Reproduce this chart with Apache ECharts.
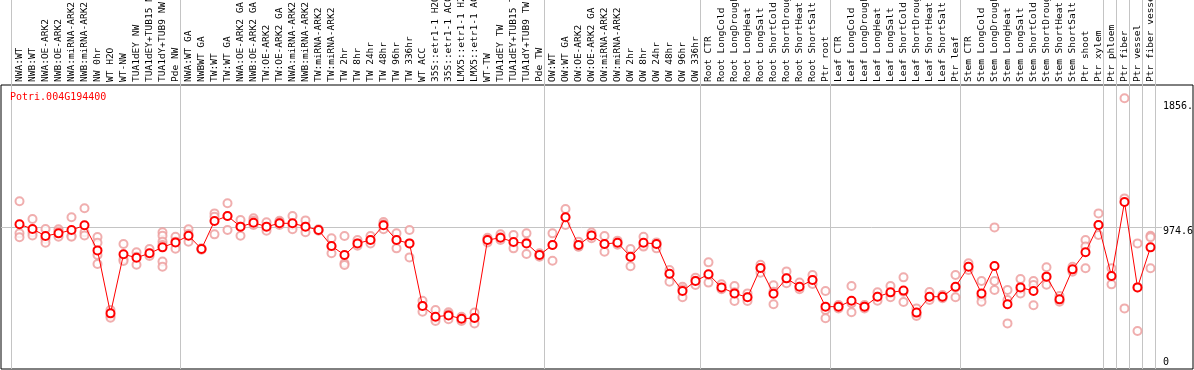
<!DOCTYPE html>
<html lang="en">

<head>
    <meta charset="UTF-8">
    <title>Potri.004G194400</title>
    <style>
        body {
            margin: 0;
            background: #fff;
        }

        #chart {
            width: 1194px;
            height: 370px;
        }
    </style>
    <script src="https://cdn.jsdelivr.net/npm/echarts@6/dist/echarts.min.js"></script>
</head>

<body>
    <div id="chart"></div>
    <script>
        var geneName = 'Potri.004G194400';

        var categories = [
            'NWA:WT', 'NWB:WT', 'NWA:OE-ARK2', 'NWB:OE-ARK2', 'NWA:miRNA-ARK2', 'NWB:miRNA-ARK2',
            'NW 0hr', 'WT H2O', 'WT-NW', 'TUA1dEY NW', 'TUA1dEY+TUB15 NW', 'TUA1dY+TUB9 NW', 'Pde NW',
            'NWA:WT GA', 'NWBWT GA', 'TW:WT', 'TW:WT GA', 'NWA:OE-ARK2 GA', 'NWB:OE-ARK2 GA',
            'TW:OE-ARK2', 'TW:OE-ARK2 GA', 'NWA:miRNA-ARK2', 'NWB:miRNA-ARK2', 'TW:miRNA-ARK2', 'TW:miRNA-ARK2',
            'TW 2hr', 'TW 8hr', 'TW 24hr', 'TW 48hr', 'TW 96hr', 'TW 336hr', 'WT ACC',
            '35S::etr1-1 H2O', '35S::etr1-1 ACC', 'LMX5::etr1-1 H2O', 'LMX5::etr1-1 ACC',
            'WT-TW', 'TUA1dEY TW', 'TUA1dEY+TUB15 TW', 'TUA1dY+TUB9 TW', 'Pde TW',
            'OW:WT', 'OW:WT GA', 'OW:OE-ARK2', 'OW:OE-ARK2 GA', 'OW:miRNA-ARK2', 'OW:miRNA-ARK2',
            'OW 2hr', 'OW 8hr', 'OW 24hr', 'OW 48hr', 'OW 96hr', 'OW 336hr',
            'Root CTR', 'Root LongCold', 'Root LongDrought', 'Root LongHeat', 'Root LongSalt',
            'Root ShortCold', 'Root ShortDrought', 'Root ShortHeat', 'Root ShortSalt', 'Ptr root',
            'Leaf CTR', 'Leaf LongCold', 'Leaf LongDrought', 'Leaf LongHeat', 'Leaf LongSalt',
            'Leaf ShortCold', 'Leaf ShortDrought', 'Leaf ShortHeat', 'Leaf ShortSalt', 'Ptr leaf',
            'Stem CTR', 'Stem LongCold', 'Stem LongDrought', 'Stem LongHeat', 'Stem LongSalt',
            'Stem ShortCold', 'Stem ShortDrought', 'Stem ShortHeat', 'Stem ShortSalt',
            'Ptr shoot', 'Ptr xylem', 'Ptr phloem', 'Ptr fiber', 'Ptr vessel', 'Ptr fiber vessel'
        ];

        // mean expression per sample (the connected dark red circles)
        var means = [
            993, 961, 913, 931, 954, 986, 814, 382, 787, 764,
            794, 835, 869, 915, 824, 1016, 1050, 977, 1004, 977,
            1000, 1000, 977, 954, 844, 782, 862, 885, 986, 885,
            862, 432, 359, 368, 345, 350, 885, 901, 872, 862,
            782, 851, 1041, 851, 917, 858, 867, 771, 867, 858,
            654, 535, 604, 650, 560, 519, 492, 693, 517, 622,
            565, 611, 428, 428, 469, 428, 496, 526, 538, 387,
            496, 496, 565, 702, 519, 707, 444, 560, 535, 634,
            478, 684, 801, 988, 638, 1146, 560, 835
        ];

        // replicate values per sample (the light circles)
        var replicates = [
            [1151, 931, 904], [1029, 936, 917], [961, 892, 867], [959, 943, 908], [1041, 913, 908],
            [1103, 938, 917], [906, 867, 782, 721], [405, 366, 352], [858, 753, 741], [801, 771, 716],
            [824, 787, 776], [938, 915, 874, 851, 737, 702], [908, 874, 826], [959, 927, 874], [828, 824, 819],
            [1068, 1045, 924], [1137, 1050, 954], [1023, 977, 915], [1034, 1018, 988], [1007, 972, 949],
            [1018, 1009, 988], [1050, 988, 959], [1020, 977, 938], [959, 954, 949], [897, 840, 794],
            [913, 725, 714], [885, 862, 846], [913, 885, 862], [1009, 993, 959], [931, 885, 828],
            [954, 862, 766], [469, 432, 393], [405, 348, 329], [389, 375, 341], [359, 336, 329],
            [387, 348, 313], [901, 890, 869], [924, 904, 885], [920, 867, 828], [931, 867, 789],
            [794, 778, 771], [931, 851, 743], [1098, 1041, 988], [874, 840, 840], [936, 917, 897],
            [913, 858, 805], [881, 867, 853], [824, 771, 705], [908, 851, 840], [869, 851, 828],
            [679, 652, 599], [565, 547, 492], [627, 606, 576], [732, 645, 593], [581, 554, 547],
            [570, 526, 467], [519, 492, 467], [716, 693, 661], [574, 531, 444], [670, 622, 588],
            [593, 565, 547], [645, 611, 583], [535, 405, 348], [439, 428, 416], [570, 451, 389],
            [439, 428, 416], [526, 496, 469], [570, 519, 492], [629, 531, 460], [416, 377, 364],
            [528, 492, 474], [508, 496, 485], [645, 560, 492], [725, 702, 679], [604, 496, 462],
            [972, 604, 542], [542, 474, 313], [618, 547, 519], [604, 576, 437], [698, 634, 579],
            [501, 474, 462], [702, 679, 668], [885, 840, 691], [1068, 988, 920], [691, 634, 581],
            [1858, 1171, 416], [862, 560, 261], [915, 904, 691]
        ];

        // sample indices that start a new group (vertical separators)
        var groupStarts = [0, 13, 41, 53, 63, 73, 84, 85, 86, 87];

        var yMax = 1949.2;
        var midValue = 974.6;
        var yTickValues = [0, 974.6, 1856];
        var yTickText = ['0', '974.6', '1856.'];

        var mono = 'DejaVu Sans Mono';

        var repPoints = [];
        replicates.forEach(function(list, i) {
            list.forEach(function(v) {
                repPoints.push([i, v]);
            });
        });

        // v6 grids shrink to fit labels by default; keep the fixed layout
        function makeGrid(o) {
            o.containLabel = false;
            o.outerBoundsMode = 'none';
            return o;
        }

        var myChart = echarts.init(document.getElementById('chart'));

        var option = {
            animation: false,
            backgroundColor: '#fff',
            title: {
                text: geneName,
                left: 10,
                top: 92,
                padding: 0,
                textStyle: {
                    color: '#ff0000',
                    fontFamily: mono,
                    fontSize: 10,
                    fontWeight: 'normal'
                }
            },
            grid: [
                // data
                makeGrid({ left: 13, right: 37, top: 85, bottom: 1 }),
                // group separators, full height
                makeGrid({ left: 11, right: 39, top: 0, bottom: 1 }),
                // mid reference line
                makeGrid({ left: 1, right: 32, top: 85, bottom: 1 }),
                // frame
                makeGrid({ left: 1, right: 1, top: 85, bottom: 1, show: true, borderColor: '#000', borderWidth: 1, backgroundColor: 'transparent' })
            ],
            xAxis: [{
                gridIndex: 0,
                type: 'category',
                position: 'top',
                data: categories,
                boundaryGap: true,
                axisLine: { show: false },
                axisTick: { show: false },
                splitLine: { show: false },
                axisLabel: {
                    interval: 0,
                    rotate: 90,
                    margin: 3,
                    color: '#000',
                    fontFamily: mono,
                    fontSize: 9.5
                }
            }, {
                gridIndex: 1,
                type: 'category',
                data: categories,
                boundaryGap: true,
                axisLine: { show: false },
                axisTick: { show: false },
                axisLabel: { show: false },
                splitLine: {
                    show: true,
                    interval: function(index) {
                        return groupStarts.indexOf(index) >= 0;
                    },
                    lineStyle: { color: '#c4c4c4', width: 1 }
                }
            }, {
                gridIndex: 2,
                type: 'value',
                show: false
            }, {
                gridIndex: 3,
                type: 'value',
                show: false
            }],
            yAxis: [{
                gridIndex: 0,
                type: 'value',
                position: 'right',
                min: 0,
                max: yMax,
                axisLine: { show: false },
                axisTick: { show: false },
                splitLine: { show: false },
                axisLabel: {
                    customValues: yTickValues,
                    margin: 6,
                    align: 'left',
                    formatter: function(v) {
                        var i = yTickValues.indexOf(v);
                        var t = i >= 0 ? yTickText[i] : '';
                        if (v === 0) return '{lo|' + t + '}';
                        if (v === midValue) return '{mid|' + t + '}';
                        return '{hi|' + t + '}';
                    },
                    rich: {
                        lo: { fontFamily: mono, fontSize: 10, color: '#000', padding: [0, 0, 14, 0] },
                        mid: { fontFamily: mono, fontSize: 10, color: '#000', padding: [8, 0, 0, 0] },
                        hi: { fontFamily: mono, fontSize: 10, color: '#000', padding: [16, 0, 0, 0] }
                    }
                }
            }, {
                gridIndex: 1,
                type: 'value',
                show: false
            }, {
                gridIndex: 2,
                type: 'value',
                min: 0,
                max: yMax,
                interval: midValue,
                axisLine: { show: false },
                axisTick: { show: false },
                axisLabel: { show: false },
                splitLine: {
                    show: true,
                    showMinLine: false,
                    showMaxLine: false,
                    lineStyle: { color: '#c4c4c4', width: 1 }
                }
            }, {
                gridIndex: 3,
                type: 'value',
                show: false
            }],
            series: [{
                name: 'replicates',
                type: 'scatter',
                xAxisIndex: 0,
                yAxisIndex: 0,
                symbol: 'emptyCircle',
                symbolSize: 8,
                itemStyle: {
                    color: '#ec9a9a',
                    borderColor: '#ec9a9a',
                    borderWidth: 1.2
                },
                z: 2,
                data: repPoints
            }, {
                name: geneName,
                type: 'line',
                xAxisIndex: 0,
                yAxisIndex: 0,
                symbol: 'emptyCircle',
                symbolSize: 8,
                showAllSymbol: true,
                lineStyle: { color: '#ff0000', width: 1 },
                itemStyle: {
                    color: '#ff0000',
                    borderColor: '#ff0000',
                    borderWidth: 1.6
                },
                z: 3,
                data: means
            }]
        };
        myChart.setOption(option);
    </script>
</body>

</html>
